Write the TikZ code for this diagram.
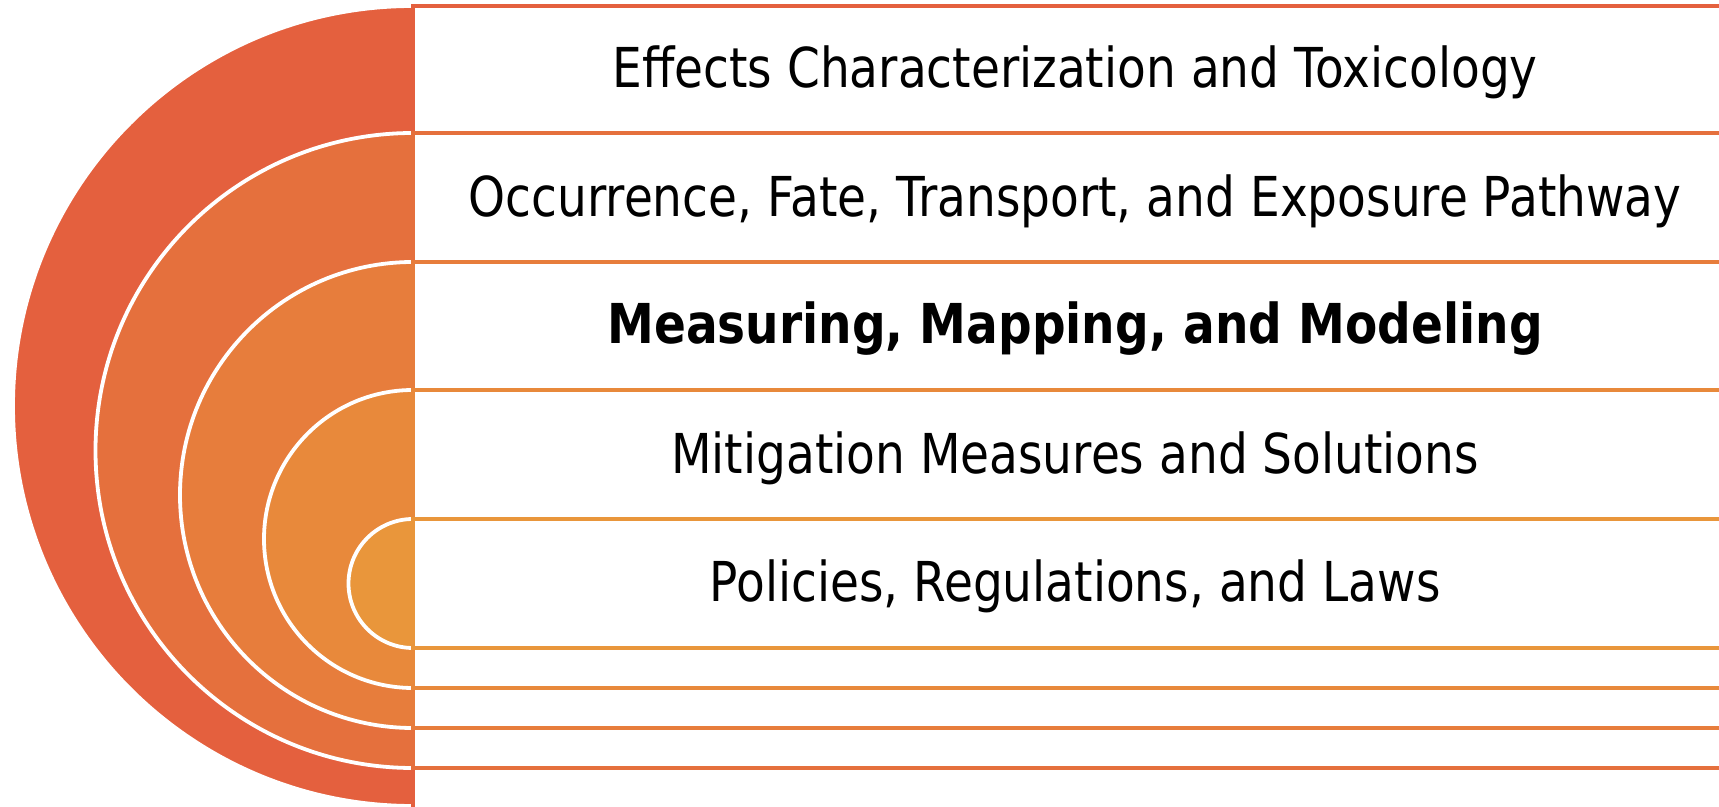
\documentclass[tikz,border=0pt]{standalone}
\usepackage{fontspec}
\setmainfont{DejaVu Sans}[FakeStretch=0.855]
\definecolor{ringA}{HTML}{E4603E}
\definecolor{ringB}{HTML}{E5703D}
\definecolor{ringC}{HTML}{E77D3C}
\definecolor{ringD}{HTML}{E8893B}
\definecolor{ringE}{HTML}{E9963B}
\tikzset{
  ring/.style={fill=#1, draw=white, line width=3.8pt},
  band/.style={fill=white, draw=#1, line width=3.6pt},
  label/.style={font=\fontsize{55}{66}\selectfont, text=black, inner sep=0pt, anchor=center},
}
\begin{document}
\begin{tikzpicture}[x=1pt, y=1pt]
  \useasboundingbox (0,0) rectangle (1719,806);
  % Nested half-discs with their bands, outermost first
  % level 1
  \path[ring=ringA] (413,800) arc[start angle=90, end angle=270, radius=400] -- cycle;
  \path[band=ringA] (413,800) rectangle (1740,-6);
  % level 2
  \path[ring=ringB] (413,673) arc[start angle=90, end angle=270, radius=317.5] -- cycle;
  \path[band=ringB] (413,673) rectangle (1740,38);
  % level 3
  \path[ring=ringC] (413,544) arc[start angle=90, end angle=270, radius=233] -- cycle;
  \path[band=ringC] (413,544) rectangle (1740,78);
  % level 4
  \path[ring=ringD] (413,416) arc[start angle=90, end angle=270, radius=149] -- cycle;
  \path[band=ringD] (413,416) rectangle (1740,118);
  % level 5
  \path[ring=ringE] (413,287) arc[start angle=90, end angle=270, radius=64.5] -- cycle;
  \path[band=ringE] (413,287) rectangle (1740,158);
  % Labels, one per band
  \node[label] (effects) at (1075,734) {Effects Characterization and Toxicology};
  \node[label] (occurrence) at (1075,605) {Occurrence, Fate, Transport, and Exposure Pathway};
  \node[label, font=\fontsize{55}{66}\selectfont\bfseries] (measuring) at (1075,477) {Measuring, Mapping, and Modeling};
  \node[label] (mitigation) at (1075,348) {Mitigation Measures and Solutions};
  \node[label] (policies) at (1075,220) {Policies, Regulations, and Laws};
\end{tikzpicture}
\end{document}
